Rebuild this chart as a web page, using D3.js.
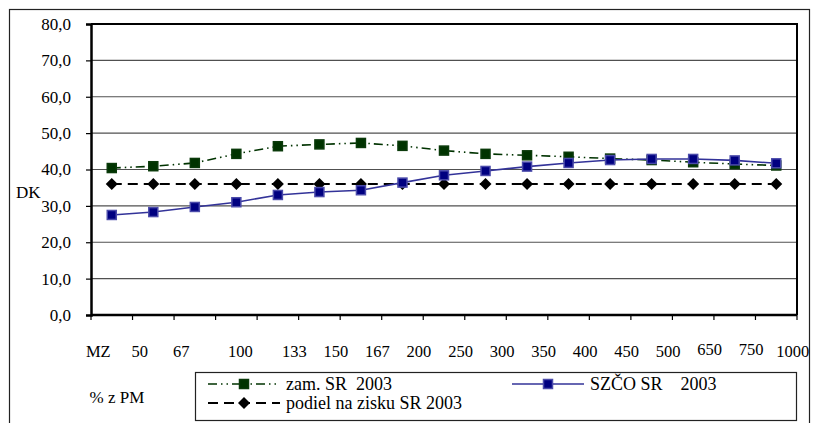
<!DOCTYPE html>
<html>
<head>
<meta charset="utf-8">
<script src="https://cdn.jsdelivr.net/npm/d3@7"></script>
</head>
<body style="margin:0">
<svg id="chart" width="816" height="423"></svg>
<script>
const categories = ["MZ", "50", "67", "100", "133", "150", "167", "200", "250", "300", "350", "400", "450", "500", "650", "750", "1000"];
const zamValues = [40.4, 40.9, 41.8, 44.3, 46.4, 46.9, 47.3, 46.5, 45.2, 44.3, 43.9, 43.5, 43.0, 42.6, 42.0, 41.5, 41.1];
const szcoValues = [27.5, 28.3, 29.7, 31.0, 33.0, 33.8, 34.3, 36.4, 38.4, 39.6, 40.8, 41.8, 42.6, 42.9, 42.9, 42.5, 41.7];
const podielValues = [36.0, 36.0, 36.0, 36.0, 36.0, 36.0, 36.0, 36.0, 36.0, 36.0, 36.0, 36.0, 36.0, 36.0, 36.0, 36.0, 36.0];
const yTicks = [0, 10, 20, 30, 40, 50, 60, 70, 80];
const seriesNames = ["zam. SR\u00a0\u00a02003", "SZČO SR\u00a0\u00a0\u00a0\u00a02003", "podiel na zisku SR 2003"];

const FONT = "'Liberation Serif'";
const svg = d3.select("#chart");
const plotLeft = 91, plotRight = 797, plotTop = 24, plotBottom = 315;

const xScale = d3.scaleBand().domain(categories).range([plotLeft, plotRight]);
const yScale = d3.scaleLinear().domain([0, 80]).range([plotBottom, plotTop]);
const cx = (d, i) => xScale(categories[i]) + xScale.bandwidth() / 2;

// outer frame
svg.append("rect")
  .attr("x", 9.5).attr("y", 9.5)
  .attr("width", 800).attr("height", 440)
  .attr("fill", "none").attr("stroke", "#222").attr("stroke-width", 1.2);

// gridlines
svg.append("g")
  .selectAll("line")
  .data(yTicks.filter((d) => d > 0 && d < 80))
  .enter()
  .append("line")
  .attr("x1", plotLeft).attr("x2", plotRight)
  .attr("y1", (d) => yScale(d)).attr("y2", (d) => yScale(d))
  .attr("stroke", "#505050").attr("stroke-width", 1.2);

// plot border top / right
svg.append("path")
  .attr("d", `M${plotLeft},${plotTop}H${plotRight}V${plotBottom}`)
  .attr("fill", "none").attr("stroke", "#000").attr("stroke-width", 2);

// y axis
const yAxis = svg.append("g")
  .attr("transform", `translate(${plotLeft},0)`)
  .call(d3.axisLeft(yScale).tickValues(yTicks).tickSize(5).tickPadding(15)
    .tickFormat((d) => d3.format(".1f")(d).replace(".", ",")));
yAxis.attr("font-family", null).attr("font-size", null);
yAxis.select(".domain").attr("stroke", "#000").attr("stroke-width", 2.5);
yAxis.selectAll(".tick line").attr("stroke", "#000").attr("stroke-width", 1.2);
yAxis.selectAll(".tick text")
  .attr("fill", "#000")
  .style("font-family", FONT)
  .style("font-size", "17px");

// x axis (ticks between categories)
const xAxis = svg.append("g").attr("transform", `translate(0,${plotBottom})`);
xAxis.append("line")
  .attr("x1", plotLeft).attr("x2", plotRight)
  .attr("stroke", "#000").attr("stroke-width", 2.5);
xAxis.selectAll(".xtick")
  .data(categories.concat(["end"]))
  .enter()
  .append("line")
  .attr("x1", (d, i) => plotLeft + i * xScale.bandwidth())
  .attr("x2", (d, i) => plotLeft + i * xScale.bandwidth())
  .attr("y1", 0).attr("y2", 5)
  .attr("stroke", "#000").attr("stroke-width", 1.2);

// category labels (typed in a separate text row in the original)
const labelShift = (i) => (i < 3 ? -13.5 : i === 3 ? 4 : 16.5);
svg.append("g")
  .selectAll("text")
  .data(categories)
  .enter()
  .append("text")
  .attr("x", (d, i) => cx(d, i) + labelShift(i))
  .attr("y", (d, i) => (i === 14 || i === 15 ? 355 : 357))
  .attr("text-anchor", "middle")
  .style("font-family", FONT)
  .style("font-size", "16.5px")
  .text((d) => d);

// axis titles
svg.append("text")
  .attr("x", 16).attr("y", 198)
  .style("font-family", FONT)
  .style("font-size", "17px")
  .text("DK");

svg.append("text")
  .attr("x", 117).attr("y", 403)
  .attr("text-anchor", "middle")
  .style("font-family", FONT)
  .style("font-size", "17px")
  .text("% z PM");

// series
const line = d3.line().x(cx).y((d) => yScale(d));

const drawSquares = (data, fill, stroke) =>
  svg.append("g")
    .selectAll("rect")
    .data(data)
    .enter()
    .append("rect")
    .attr("x", (d, i) => cx(d, i) - 4.5)
    .attr("y", (d) => yScale(d) - 4.5)
    .attr("width", 9).attr("height", 9)
    .attr("fill", fill).attr("stroke", stroke).attr("stroke-width", 1.5);

// podiel na zisku
svg.append("path")
  .attr("d", line(podielValues))
  .attr("fill", "none").attr("stroke", "#000")
  .attr("stroke-width", 2).attr("stroke-dasharray", "10,6");
svg.append("g")
  .selectAll("path")
  .data(podielValues)
  .enter()
  .append("path")
  .attr("transform", (d, i) => `translate(${cx(d, i)},${yScale(d)})`)
  .attr("d", "M0,-6L6,0L0,6L-6,0Z")
  .attr("fill", "#000");

// zam. SR
svg.append("path")
  .attr("d", line(zamValues))
  .attr("fill", "none").attr("stroke", "#003300")
  .attr("stroke-width", 1.6).attr("stroke-dasharray", "9,4,1.5,4,1.5,4");
drawSquares(zamValues, "#003300", "#0a3a0a");

// SZČO SR
svg.append("path")
  .attr("d", line(szcoValues))
  .attr("fill", "none").attr("stroke", "#333399").attr("stroke-width", 1.6);
drawSquares(szcoValues, "#000080", "#4a4aaa");

// legend
const legend = svg.append("g");
legend.append("rect")
  .attr("x", 195.5).attr("y", 372.5)
  .attr("width", 601).attr("height", 48)
  .attr("fill", "#fff").attr("stroke", "#222").attr("stroke-width", 1.2);

const legendItems = [
  { label: seriesNames[0], x: 208, y: 384, color: "#003300", dash: "9,4,1.5,4,1.5,4", mark: "square", fill: "#003300", stroke: "#0a3a0a", w: 1.6 },
  { label: seriesNames[1], x: 512, y: 384, color: "#333399", dash: null, mark: "square", fill: "#000080", stroke: "#4a4aaa", w: 1.6 },
  { label: seriesNames[2], x: 208, y: 403, color: "#000", dash: "10,6", mark: "diamond", fill: "#000", stroke: "none", w: 2 }
];

legendItems.forEach((it) => {
  legend.append("line")
    .attr("x1", it.x).attr("x2", it.x + 72)
    .attr("y1", it.y).attr("y2", it.y)
    .attr("stroke", it.color).attr("stroke-width", it.w)
    .attr("stroke-dasharray", it.dash);
  if (it.mark === "square") {
    legend.append("rect")
      .attr("x", it.x + 36 - 4.5).attr("y", it.y - 4.5)
      .attr("width", 9).attr("height", 9)
      .attr("fill", it.fill).attr("stroke", it.stroke).attr("stroke-width", 1.5);
  } else {
    legend.append("path")
      .attr("transform", `translate(${it.x + 36},${it.y})`)
      .attr("d", "M0,-6L6,0L0,6L-6,0Z")
      .attr("fill", it.fill);
  }
  legend.append("text")
    .attr("x", it.x + 78).attr("y", it.y + 5.5)
    .style("font-family", FONT)
    .style("font-size", "18px")
    .text(it.label);
});
</script>
</body>
</html>
